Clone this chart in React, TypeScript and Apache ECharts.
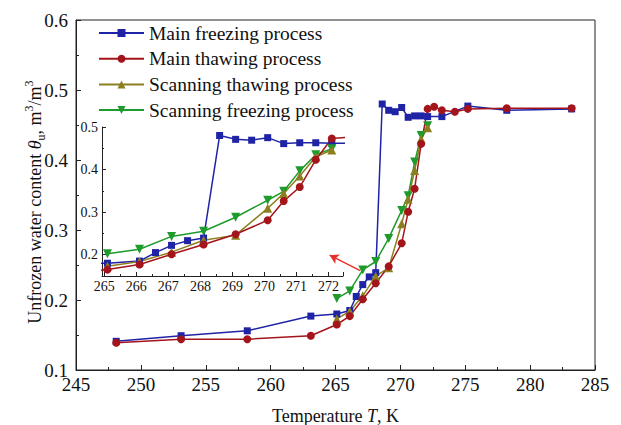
import React, { useEffect, useRef } from 'react';
import * as echarts from 'echarts';

// Main freezing process
const freezeT = [248.1, 253.1, 258.2, 263.1, 265.1, 266.1, 266.6, 267.1, 267.6, 268.1, 268.6, 269.1, 269.6, 270.1, 270.6, 271.1, 271.6, 272.1, 273.2, 275.2, 278.2, 283.2];
const freezeTheta = [0.141, 0.149, 0.156, 0.177, 0.180, 0.185, 0.205, 0.222, 0.233, 0.239, 0.480, 0.471, 0.469, 0.475, 0.461, 0.463, 0.463, 0.462, 0.462, 0.477, 0.471, 0.473];
// Main thawing process
const thawT = [248.1, 253.1, 258.2, 263.1, 265.1, 266.1, 267.1, 268.1, 269.1, 270.1, 270.6, 271.1, 271.6, 272.1, 272.6, 273.2, 274.2, 275.2, 278.2, 283.2];
const thawTheta = [0.139, 0.144, 0.144, 0.149, 0.165, 0.177, 0.201, 0.224, 0.248, 0.281, 0.326, 0.359, 0.423, 0.473, 0.476, 0.471, 0.469, 0.473, 0.474, 0.474];
// Scanning thawing process
const scanThawT = [265.1, 266.1, 267.1, 268.1, 269.1, 270.1, 270.6, 271.1, 271.6, 272.1];
const scanThawTheta = [0.173, 0.184, 0.206, 0.234, 0.246, 0.309, 0.344, 0.385, 0.430, 0.446];
// Scanning freezing process
const scanFreezeT = [265.1, 266.1, 267.1, 268.1, 269.1, 270.1, 270.6, 271.1, 271.6, 272.1];
const scanFreezeTheta = [0.202, 0.213, 0.243, 0.255, 0.288, 0.328, 0.349, 0.397, 0.435, 0.449];

const seriesNames = ['Main freezing process', 'Main thawing process', 'Scanning thawing process', 'Scanning freezing process'];
const mainXTicks = { min: 245, max: 285, interval: 5 };
const mainYTicks = { min: 0.1, max: 0.6, interval: 0.1 };
const insetX = { min: 264.93, max: 272.45, step: 1 };
const insetY = { min: 0.15, max: 0.5, step: 0.1 };
// annotation arrow (from, to) in data units
const arrowFrom = [266.9, 0.242];
const arrowTo = [264.55, 0.264];

const FONT = 'Liberation Serif';
const COLORS = ['#1f23a6', '#a3141b', '#8c7f1f', '#1f9a2c'];

const pair = (xs: number[], ys: number[]) => xs.map((x, i) => [x, ys[i]]);

export default function App() {
  const ref = useRef<HTMLDivElement>(null);
  useEffect(() => {
    if (!ref.current) return;
    const chart = echarts.init(ref.current, undefined, { renderer: 'svg' });
    const datasets = [
      { name: seriesNames[0], data: pair(freezeT, freezeTheta), symbol: 'rect', size: 7, color: COLORS[0] },
      { name: seriesNames[3], data: pair(scanFreezeT, scanFreezeTheta), symbol: 'triangle', size: 9, rotate: 180, color: COLORS[3] },
      { name: seriesNames[2], data: pair(scanThawT, scanThawTheta), symbol: 'triangle', size: 9, rotate: 0, color: COLORS[2] },
      { name: seriesNames[1], data: pair(thawT, thawTheta), symbol: 'circle', size: 8, color: COLORS[1] },
    ];
    const mkSeries = (d: any, idx: number) => ({
      type: 'line',
      name: d.name,
      xAxisIndex: idx,
      yAxisIndex: idx,
      data: d.data,
      symbol: d.symbol,
      symbolSize: d.size,
      symbolRotate: d.rotate || 0,
      showAllSymbol: true,
      clip: true,
      color: d.color,
      lineStyle: { color: d.color, width: 1.5 },
      itemStyle: { color: d.color },
    });
    const series: any[] = [];
    datasets.forEach((d) => series.push(mkSeries(d, 0)));
    datasets.forEach((d) => series.push(mkSeries(d, 1)));
    series.push({
      type: 'line',
      xAxisIndex: 0,
      yAxisIndex: 0,
      data: [],
      silent: true,
      markLine: {
        silent: true,
        symbol: ['none', 'arrow'],
        symbolSize: [8, 9],
        label: { show: false },
        lineStyle: { color: '#e8302a', width: 1.5, type: 'solid' },
        data: [[{ coord: arrowFrom }, { coord: arrowTo }]],
      },
    });

    const baseAxisLine = { lineStyle: { color: '#222', width: 1 } };
    chart.setOption({
      animation: false,
      backgroundColor: '#fff',
      textStyle: { fontFamily: FONT },
      legend: {
        data: seriesNames,
        orient: 'vertical',
        left: 98,
        top: 21,
        padding: 0,
        itemWidth: 45,
        itemHeight: 10,
        itemGap: 1.7,
        textStyle: { fontFamily: FONT, fontSize: 19.5, color: '#111', lineHeight: 24 },
      },
      grid: [
        { left: 76, right: 26, top: 20, bottom: 55, show: true, borderColor: '#222', borderWidth: 1, backgroundColor: 'transparent', outerBoundsMode: 'none', containLabel: false },
        { left: 102, top: 127, width: 241, height: 149, outerBoundsMode: 'none', containLabel: false },
      ],
      xAxis: [
        {
          type: 'value', gridIndex: 0, ...mainXTicks,
          axisLine: baseAxisLine,
          axisTick: { inside: true, length: 5, lineStyle: { color: '#222' } },
          minorTick: { show: true, splitNumber: 2, length: 3, lineStyle: { color: '#222' } },
          splitLine: { show: false },
          axisLabel: { fontFamily: FONT, fontSize: 19, color: '#111', margin: 5 },
          name: 'Temperature {i|T}, K',
          nameLocation: 'middle',
          nameGap: 37,
          nameMoveOverlap: false,
          nameTextStyle: {
            fontFamily: FONT, fontSize: 18, color: '#111',
            rich: { i: { fontFamily: FONT, fontSize: 18, fontStyle: 'italic', color: '#111' } },
          },
        },
        {
          type: 'value', gridIndex: 1, min: insetX.min, max: insetX.max,
          minInterval: insetX.step, maxInterval: insetX.step,
          axisLine: baseAxisLine,
          axisTick: { inside: true, length: 4, lineStyle: { color: '#222' } },
          minorTick: { show: true, splitNumber: 2, length: 2, lineStyle: { color: '#222' } },
          splitLine: { show: false },
          axisLabel: {
            fontFamily: FONT, fontSize: 14, color: '#111', margin: 3,
            showMinLabel: false, showMaxLabel: false,
            formatter: (v: number) => (Math.abs(v - Math.round(v)) < 1e-6 ? String(Math.round(v)) : ''),
          },
        },
      ],
      yAxis: [
        {
          type: 'value', gridIndex: 0, ...mainYTicks,
          axisLine: baseAxisLine,
          axisTick: { inside: true, length: 5, lineStyle: { color: '#222' } },
          minorTick: { show: true, splitNumber: 2, length: 3, lineStyle: { color: '#222' } },
          splitLine: { show: false },
          axisLabel: { fontFamily: FONT, fontSize: 19, color: '#111', margin: 8, formatter: (v: number) => v.toFixed(1) },
          name: '{t|Unfrozen water content }{i|θ}{s|u}{t|, m}{p|3}{t|/m}{p|3}',
          nameLocation: 'middle',
          nameGap: 29,
          nameMoveOverlap: false,
          nameTextStyle: {
            fontFamily: FONT, fontSize: 18, color: '#111',
            padding: [0, 14, 0, 0],
            rich: {
              t: { fontFamily: FONT, fontSize: 18, color: '#111', lineHeight: 24 },
              i: { fontFamily: FONT, fontSize: 18, fontStyle: 'italic', color: '#111', lineHeight: 24 },
              s: { fontFamily: FONT, fontSize: 12, color: '#111', verticalAlign: 'bottom' },
              p: { fontFamily: FONT, fontSize: 12, color: '#111', verticalAlign: 'top' },
            },
          },
        },
        {
          type: 'value', gridIndex: 1, min: insetY.min, max: insetY.max,
          minInterval: insetY.step, maxInterval: insetY.step,
          axisLine: baseAxisLine,
          axisTick: { inside: true, length: 4, lineStyle: { color: '#222' } },
          minorTick: { show: true, splitNumber: 2, length: 2, lineStyle: { color: '#222' } },
          splitLine: { show: false },
          axisLabel: {
            fontFamily: FONT, fontSize: 14, color: '#111', margin: 4,
            formatter: (v: number) => (Math.abs(v * 10 - Math.round(v * 10)) < 1e-6 ? v.toFixed(1) : ''),
          },
        },
      ],
      series,
    });
    return () => chart.dispose();
  }, []);
  return <div ref={ref} style={{ position: 'fixed', left: 0, top: 0, width: 621, height: 425, background: '#fff' }} />;
}
